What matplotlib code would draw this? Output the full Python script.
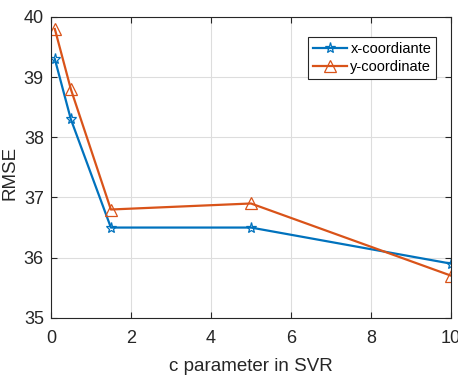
import matplotlib.pyplot as plt

plt.rcParams['font.family'] = ['Liberation Sans', 'DejaVu Sans']

# Data
c_values = [0.1, 0.5, 1.5, 5, 10]
rmse_x = [39.3, 38.3, 36.5, 36.5, 35.9]
rmse_y = [39.8, 38.8, 36.8, 36.9, 35.7]

fig = plt.figure(figsize=(4.58, 3.77), dpi=100)
ax = fig.add_axes([0.111, 0.157, 0.874, 0.798])

ax.plot(c_values, rmse_x, color='#0072BD', linewidth=1.6, marker='*', markersize=8,
        markerfacecolor='none', markeredgewidth=0.9, label='x-coordiante')
ax.plot(c_values, rmse_y, color='#D95319', linewidth=1.6, marker='^', markersize=8,
        markerfacecolor='none', markeredgewidth=0.9, label='y-coordinate')

ax.set_xlim(0, 10)
ax.set_ylim(35, 40)
ax.set_xticks([0, 2, 4, 6, 8, 10])
ax.set_yticks([35, 36, 37, 38, 39, 40])
ax.tick_params(direction='in', top=True, right=True, labelsize=13, length=4,
               color='#262626', labelcolor='#262626')
ax.tick_params(axis='x', pad=9)
ax.tick_params(axis='y', pad=5)
ax.grid(True, color='#dddddd', linewidth=0.8)
for s in ax.spines.values():
    s.set_color('#262626')

ax.set_xlabel('c parameter in SVR', fontsize=13.5, color='#262626', labelpad=8)
ax.set_ylabel('RMSE', fontsize=13.5, color='#262626')
ax.yaxis.set_label_coords(-0.08, 0.48)

leg = ax.legend(loc='upper right', bbox_to_anchor=(0.963, 0.935), fontsize=10.5,
                fancybox=False, framealpha=1, edgecolor='#262626',
                handlelength=2.3, borderpad=0.35, labelspacing=0.3, handletextpad=0.25,
                borderaxespad=0)
leg.get_frame().set_linewidth(0.8)

plt.savefig('out.png', dpi=100)
